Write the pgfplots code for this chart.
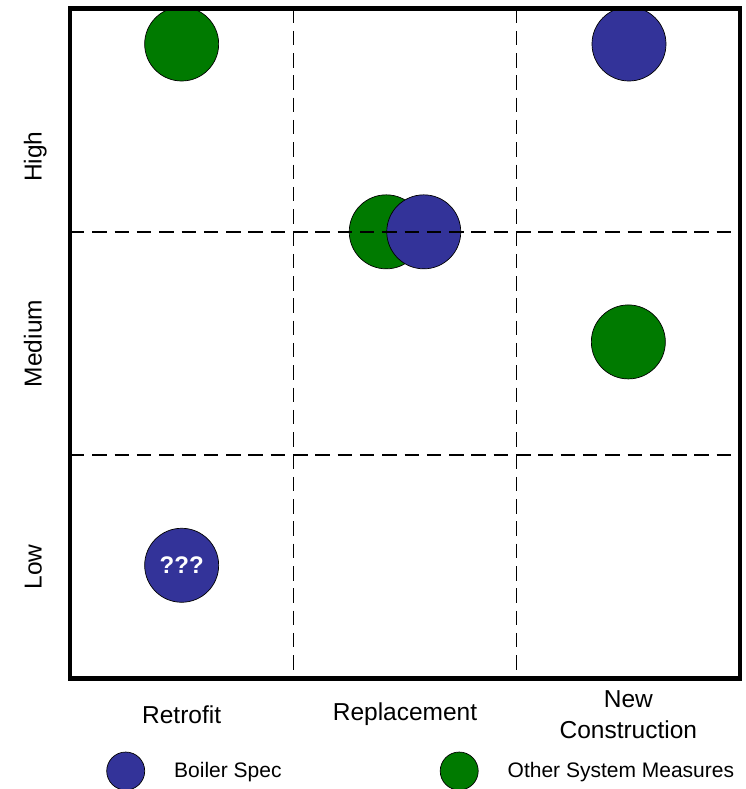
\documentclass[border=0pt]{standalone}
\usepackage{pgfplots}
\pgfplotsset{compat=1.18}
\usepackage{fontspec}
\setmainfont{Liberation Sans}

\definecolor{specblue}{RGB}{51,51,153}
\definecolor{othergreen}{RGB}{0,122,0}

\pgfplotsset{
  bubble/.style={only marks, mark=*, mark size=37pt,
    mark options={draw=black, line width=0.7pt, fill=#1}},
  divider/.style={black, line width=1.6pt, dash pattern=on 14.5pt off 7.8pt,
    forget plot},
}

\begin{document}
\begin{tikzpicture}
\path[use as bounding box] (-70pt,-110.5pt) rectangle (676pt,678.5pt);
\begin{axis}[
    at={(0pt,0pt)}, anchor=south west,
    scale only axis,
    width=670pt, height=670pt,
    xmin=0, xmax=3, ymin=0, ymax=3,
    clip=false,
    clip marker paths=true,
    axis on top=true,
    axis line style={line width=4.5pt},
    major tick length=0pt,
    xtick={0.5,1.5,2.5},
    xticklabels={Retrofit,Replacement,{New\\Construction}},
    ytick={0.5,1.5,2.336},
    yticklabels={Low,Medium,High},
    ticklabel style={font=\fontsize{24.5}{31}\selectfont},
    xticklabel style={align=center, anchor=center, yshift=-36pt},
    yticklabel style={xshift=-28.3pt, rotate=90, anchor=base},
    legend columns=2,
    legend image code/.code={\draw[#1] plot coordinates {(0pt,0pt)};},
    legend style={at={(0.0545,-0.1381)}, anchor=west, draw=none, fill=none,
      inner sep=0pt, font=\fontsize{21}{25}\selectfont,
      nodes={inner sep=0pt},
      /tikz/every odd column/.append style={column sep=29.5pt},
      /tikz/every even column/.append style={column sep=158.6pt}},
]
\addlegendimage{only marks, mark=*, mark size=19pt, mark options={draw=black, line width=0.7pt, fill=specblue}}
\addlegendentry{Boiler Spec}
\addlegendimage{only marks, mark=*, mark size=19pt, mark options={draw=black, line width=0.7pt, fill=othergreen}}
\addlegendentry{Other System Measures}

% Other System Measures
\addplot[bubble=othergreen, forget plot] coordinates {
  (0.5,2.841) (1.416,2.0) (2.5,1.507)
};
% Boiler Spec
\addplot[bubble=specblue, forget plot,
  nodes near coords, point meta=explicit symbolic,
  every node near coord/.style={anchor=center, text=white,
    font=\fontsize{24}{28}\selectfont\bfseries}]
  table[meta=label] {
x y label
0.5 0.507 ???
1.584 2.0 {}
2.503 2.841 {}
};

% grid dividers, drawn over the bubbles
\addplot[divider] coordinates {(1,3) (1,0)};
\addplot[divider] coordinates {(2,3) (2,0)};
\addplot[divider] coordinates {(0,1) (3,1)};
\addplot[divider] coordinates {(0,2) (3,2)};
\end{axis}
\end{tikzpicture}
\end{document}
